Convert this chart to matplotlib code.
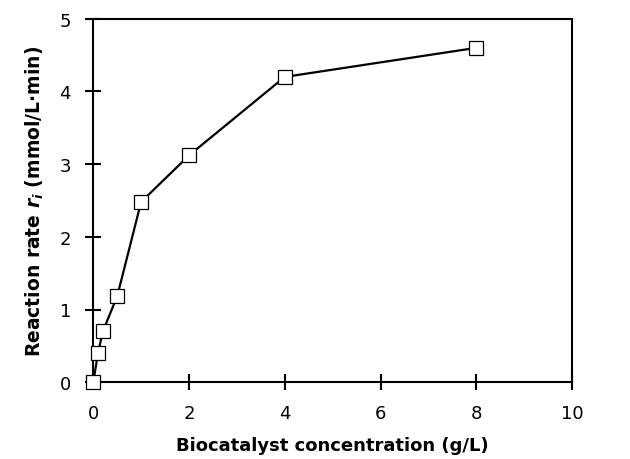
import matplotlib.pyplot as plt

# biocatalyst concentration (g/L) vs reaction rate (mmol/L.min)
conc = [0, 0.1, 0.2, 0.5, 1, 2, 4, 8]
rate = [0, 0.4, 0.7, 1.18, 2.48, 3.12, 4.2, 4.6]

plt.rcParams['mathtext.fontset'] = 'custom'
plt.rcParams['mathtext.it'] = 'DejaVu Sans:italic:bold'
plt.rcParams['mathtext.rm'] = 'DejaVu Sans:bold'

fig = plt.figure(figsize=(6.3, 4.6), dpi=100)
ax = fig.add_axes([0.148, 0.167, 0.760, 0.790])

ax.plot(conc, rate, color='black', lw=1.6, marker='s', markersize=10,
        markerfacecolor='white', markeredgecolor='black', markeredgewidth=0.9,
        clip_on=False, zorder=3)

ax.set_xlim(0, 10)
ax.set_ylim(0, 5)
ax.set_xticks([0, 2, 4, 6, 8, 10])
ax.set_yticks([0, 1, 2, 3, 4, 5])
ax.tick_params(direction='inout', length=12, width=1.5, labelsize=13, pad=10)
for s in ax.spines.values():
    s.set_linewidth(1.5)

ax.set_xlabel('Biocatalyst concentration (g/L)', fontsize=13, fontweight='bold', labelpad=10)
ax.set_ylabel(r'Reaction rate $r_i$ (mmol/L$\cdot$min)', fontsize=13.5,
              fontweight='bold', labelpad=10)

fig.savefig('out.png', dpi=100)
